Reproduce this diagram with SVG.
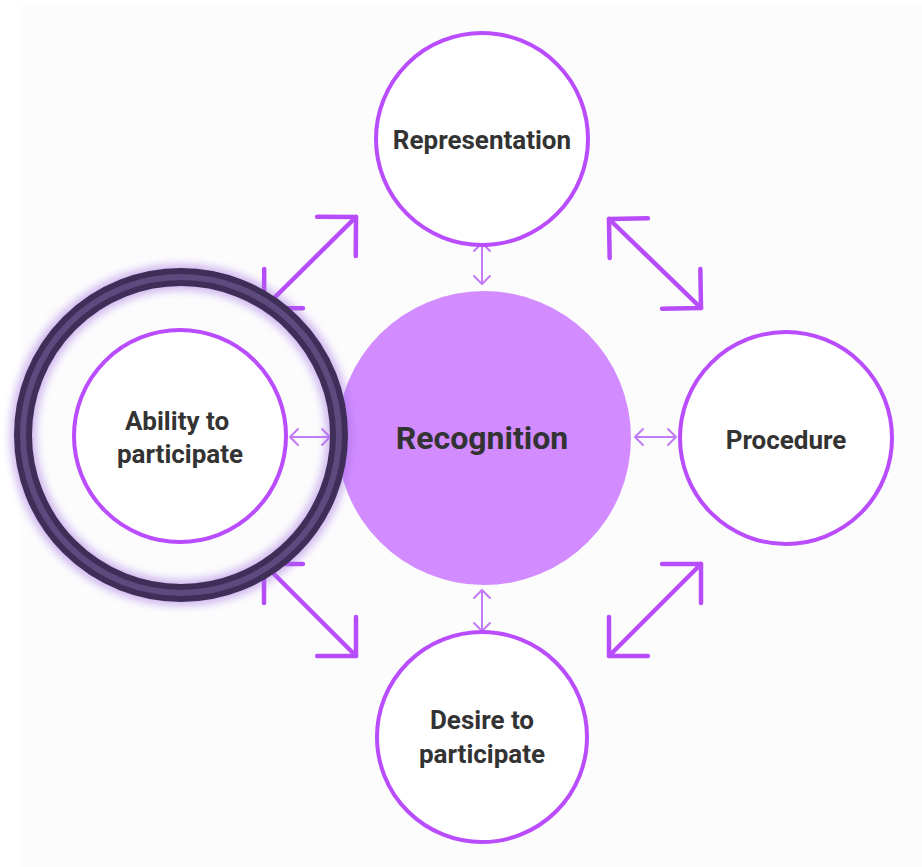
<svg xmlns="http://www.w3.org/2000/svg" width="922" height="867" viewBox="0 0 922 867">
<style>
.node{fill:#ffffff;stroke:#b94cfc;stroke-width:4}
.lbl{font-family:Roboto,"Liberation Sans",sans-serif;font-weight:700;fill:#333333;text-anchor:middle}
.big{fill:none;stroke:#b64cfa;stroke-width:4.5;stroke-linecap:round;marker-start:url(#bigHead);marker-end:url(#bigHead)}
.small{fill:none;stroke:#c27af5;stroke-width:2;marker-start:url(#smallHead);marker-end:url(#smallHead)}
</style>
<defs>
<marker id="bigHead" markerUnits="userSpaceOnUse" viewBox="-32 -32 36 64" refX="0" refY="0" markerWidth="36" markerHeight="64" orient="auto-start-reverse" overflow="visible">
<path d="M-27.5,-27.5 L0,0 L-27.5,27.5" fill="none" stroke="#b64cfa" stroke-width="4.5" stroke-linecap="round" stroke-linejoin="round"/>
</marker>
<marker id="smallHead" markerUnits="userSpaceOnUse" viewBox="-10 -10 12 20" refX="0" refY="0" markerWidth="12" markerHeight="20" orient="auto-start-reverse" overflow="visible">
<path d="M-8,-8 L0,0 L-8,8" fill="none" stroke="#c27af5" stroke-width="2" stroke-linecap="round" stroke-linejoin="round"/>
</marker>
<filter id="glow" x="-30%" y="-30%" width="160%" height="160%">
<feGaussianBlur stdDeviation="4"/>
</filter>
</defs>
<rect x="0" y="0" width="922" height="867" fill="#ffffff"/>
<rect x="20" y="5" width="902" height="862" fill="#fcfcfd"/>

<g id="connectors">
<line class="big" x1="264" y1="308" x2="356" y2="217"/>
<line class="big" x1="609" y1="219" x2="701" y2="308"/>
<line class="big" x1="264" y1="564" x2="356" y2="656"/>
<line class="big" x1="701" y1="564" x2="609" y2="656"/>
<line class="small" x1="290" y1="437" x2="330" y2="437"/>
<line class="small" x1="635" y1="437" x2="676" y2="437"/>
<line class="small" x1="482" y1="243" x2="482" y2="284"/>
<line class="small" x1="482" y1="590" x2="482" y2="631"/>
</g>

<g id="node-recognition">
<circle cx="484" cy="438" r="147" fill="#d28cff"/>
<text class="lbl" x="482" y="449" font-size="32">Recognition</text>
</g>

<g id="node-representation">
<circle class="node" cx="482" cy="139" r="106"/>
<text class="lbl" x="482" y="149" font-size="26">Representation</text>
</g>

<g id="node-procedure">
<circle class="node" cx="786" cy="438" r="106"/>
<text class="lbl" x="786" y="449" font-size="26">Procedure</text>
</g>

<g id="node-desire">
<circle class="node" cx="482" cy="737" r="105"/>
<text class="lbl" x="482" y="729" font-size="26">Desire to</text>
<text class="lbl" x="482" y="763" font-size="26">participate</text>
</g>

<g id="node-ability">
<circle cx="181" cy="435" r="158" fill="none" stroke="#a070e0" stroke-width="26" opacity="0.5" filter="url(#glow)"/>
<circle cx="181" cy="435" r="158" fill="none" stroke="#3f2f58" stroke-width="18"/>
<circle cx="181" cy="435" r="158" fill="none" stroke="#5e4a7e" stroke-width="6"/>
<circle class="node" cx="180" cy="436" r="106"/>
<text class="lbl" x="177" y="430" font-size="26">Ability to</text>
<text class="lbl" x="180" y="463" font-size="26">participate</text>
</g>
</svg>
